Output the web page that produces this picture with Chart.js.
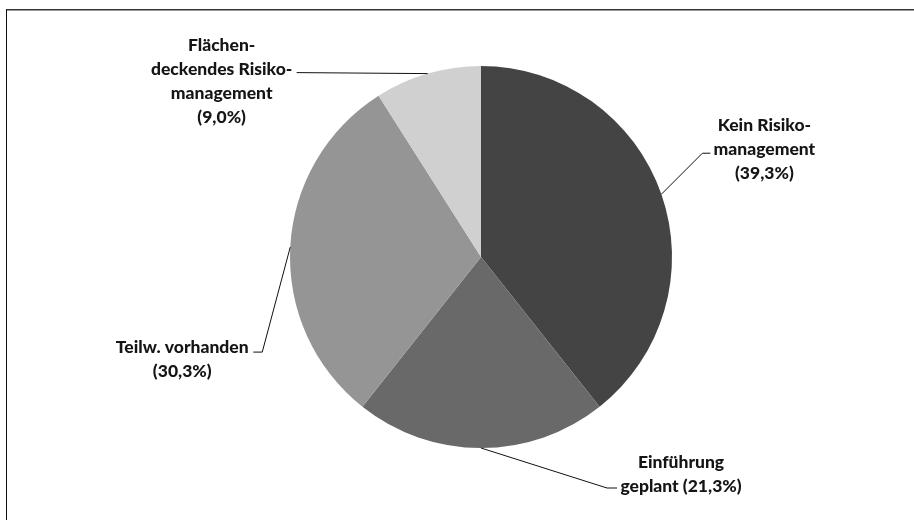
<!DOCTYPE html>
<html lang="de">
<head>
<meta charset="utf-8">
<title>Risikomanagement</title>
<script src="https://cdn.jsdelivr.net/npm/chart.js@4"></script>
<style>
  html, body { margin: 0; padding: 0; background: #fff; }
  #rahmen {
    position: absolute; left: 6px; top: 9px; right: 0; bottom: 0;
    border-top: 1px solid #333; border-left: 1px solid #111;
    box-shadow: inset 0 1px 0 #999;
  }
  #box { position: absolute; left: 0; top: 0; width: 914px; height: 520px; }
</style>
</head>
<body>
<div id="rahmen"></div>
<div id="box"><canvas id="grafik"></canvas></div>
<script>
// Kategorien (Zeilenumbrüche wie in der Beschriftung)
const kategorien = [
  ['Kein Risiko-', 'management'],
  ['Einführung', 'geplant'],
  ['Teilw. vorhanden'],
  ['Flächen-', 'deckendes Risiko-', 'management']
];
// Anteile in Prozent
const anteile = [39.3, 21.3, 30.3, 9.0];
// Prozentwert in eigener Zeile?
const eigeneZeile = [true, false, true, true];
const farben = ['#444444', '#696969', '#959595', '#d0d0d0'];

// Führungslinien: Knick, Hakenende und Textmitte relativ zum Randpunkt
const beschriftung = [
  { knick: [41, -41], haken: [49, -41], text: [103, -45] },
  { knick: [126, 40], haken: [136, 40], text: [200, 26] },
  { knick: [-28, 105], haken: [-37, 105], text: [-108, 112] },
  { knick: [-131, -1], haken: [-131, -1], text: [-206, 8] }
];

const formatProzent = v => '(' + v.toFixed(1).replace('.', ',') + '%)';

const labelPlugin = {
  id: 'fuehrungslinien',
  afterDraw(chart) {
    const ctx = chart.ctx;
    const meta = chart.getDatasetMeta(0);
    ctx.save();
    ctx.font = '900 17.5px Lato, "Open Sans", sans-serif';
    ctx.textAlign = 'center';
    ctx.textBaseline = 'middle';
    meta.data.forEach((arc, i) => {
      const p = arc.getProps(['x', 'y', 'startAngle', 'endAngle', 'outerRadius'], true);
      const mitte = (p.startAngle + p.endAngle) / 2;
      const rx = p.x + Math.cos(mitte) * p.outerRadius;
      const ry = p.y + Math.sin(mitte) * p.outerRadius;
      const b = beschriftung[i];

      ctx.strokeStyle = '#111';
      ctx.lineWidth = 1;
      ctx.beginPath();
      ctx.moveTo(rx, ry);
      ctx.lineTo(rx + b.knick[0], ry + b.knick[1]);
      ctx.lineTo(rx + b.haken[0], ry + b.haken[1]);
      ctx.stroke();

      const zeilen = kategorien[i].slice();
      const pct = formatProzent(anteile[i]);
      if (eigeneZeile[i]) zeilen.push(pct);
      else zeilen[zeilen.length - 1] += ' ' + pct;

      const zh = 24;
      const cx = rx + b.text[0];
      const cy = ry + b.text[1] - (zeilen.length - 1) * zh / 2;
      ctx.fillStyle = '#151515';
      zeilen.forEach((z, k) => ctx.fillText(z, cx, cy + k * zh));
    });
    ctx.restore();
  }
};

new Chart(document.getElementById('grafik'), {
  type: 'pie',
  data: {
    labels: kategorien.map(k => k.join(' ')),
    datasets: [{
      data: anteile,
      backgroundColor: farben,
      borderWidth: 0
    }]
  },
  options: {
    responsive: true,
    maintainAspectRatio: false,
    animation: false,
    layout: { padding: { left: 290, right: 242, top: 66, bottom: 72 } },
    plugins: {
      legend: { display: false },
      tooltip: { enabled: false }
    }
  },
  plugins: [labelPlugin]
});
</script>
</body>
</html>
